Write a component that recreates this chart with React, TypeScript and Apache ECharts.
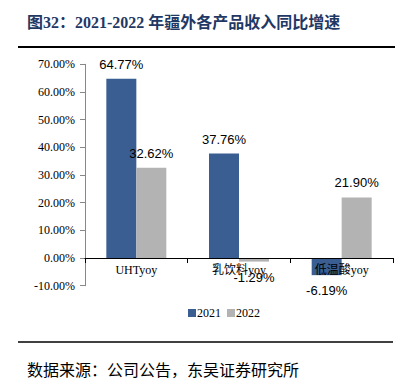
import React, { useEffect, useRef } from "react";
import * as echarts from "echarts";

const categories = ["UHTyoy", "乳饮料yoy", "低温酸yoy"];
const series2021 = [64.77, 37.76, -6.19];
const series2022 = [32.62, -1.29, 21.9];
const seriesNames = ["2021", "2022"];
const titleText = "图32：2021-2022 年疆外各产品收入同比增速";
const sourceText = "数据来源：公司公告，东吴证券研究所";

export default function App() {
  const ref = useRef<HTMLDivElement>(null);
  useEffect(() => {
    const chart = echarts.init(ref.current!, null, { renderer: "svg" });
    const mkLabel = () => ({
      show: true,
      fontFamily: "Liberation Sans",
      fontSize: 13,
      color: "#000",
      formatter: (p: any) => p.value.toFixed(2) + "%",
    });
    const mkData = (arr: number[]) =>
      arr.map((v) => ({
        value: v,
        label: v >= 0 ? { position: "top", distance: 8 } : { position: "bottom", distance: 9 },
      }));
    chart.setOption({
      animation: false,
      backgroundColor: "#fff",
      graphic: [
        {
          type: "text",
          left: 27,
          top: 14,
          style: {
            text: titleText,
            font: "bold 16px 'Liberation Serif', 'Noto Sans CJK SC', serif",
            fill: "#1f3864",
          },
        },
        {
          type: "line",
          shape: { x1: 18, y1: 47, x2: 395, y2: 47 },
          style: { stroke: "#000", lineWidth: 2 },
        },
        {
          type: "line",
          shape: { x1: 18, y1: 342, x2: 393, y2: 342 },
          style: { stroke: "#000", lineWidth: 1.5 },
        },
        {
          type: "text",
          left: 27,
          top: 361,
          style: {
            text: sourceText,
            font: "16px 'Noto Sans CJK SC', serif",
            fill: "#000",
          },
        },
      ],
      legend: {
        data: seriesNames,
        left: 183,
        top: 302,
        itemWidth: 8,
        itemHeight: 8,
        itemGap: 6,
        icon: "rect",
        textStyle: { fontFamily: "Liberation Serif", fontSize: 12, color: "#000", padding: [0, 0, 0, -4] },
      },
      grid: { left: 85, right: 2, top: 64.3, bottom: 100.3, containLabel: false },
      xAxis: {
        type: "category",
        data: categories,
        z: 10,
        axisLine: { onZero: true, lineStyle: { color: "#000", width: 1 } },
        axisTick: { show: true, length: 5, inside: false, lineStyle: { color: "#000" } },
        axisLabel: { fontFamily: "Liberation Serif, 'Noto Sans CJK SC'", fontSize: 12, color: "#000", margin: -22 },
      },
      yAxis: {
        type: "value",
        min: -10,
        max: 70,
        interval: 10,
        splitLine: { show: false },
        axisLine: { show: true, lineStyle: { color: "#888", width: 1 } },
        axisTick: { show: true, length: 5, lineStyle: { color: "#888" } },
        axisLabel: {
          fontFamily: "Liberation Serif",
          fontSize: 12,
          color: "#000",
          margin: 10,
          formatter: (v: number) => v.toFixed(2) + "%",
        },
      },
      series: [
        {
          name: seriesNames[0],
          type: "bar",
          data: mkData(series2021),
          barWidth: 30,
          barGap: "0%",
          itemStyle: { color: "#3a5e91" },
          label: mkLabel(),
        },
        {
          name: seriesNames[1],
          type: "bar",
          data: mkData(series2022),
          barWidth: 30,
          barGap: "0%",
          itemStyle: { color: "#b3b3b3" },
          label: mkLabel(),
        },
      ],
    });
    return () => chart.dispose();
  }, []);
  return (
    <div
      ref={ref}
      style={{ position: "fixed", left: 0, top: 0, width: 395, height: 386 }}
    />
  );
}
